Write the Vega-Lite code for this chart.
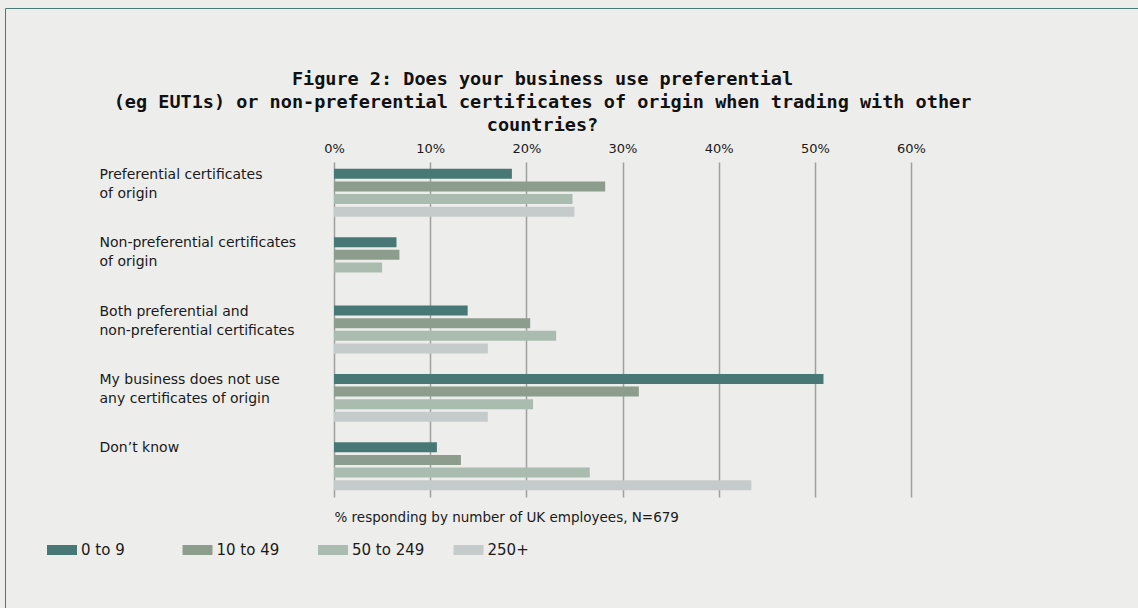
{
  "$schema": "https://vega.github.io/schema/vega-lite/v6.json",
  "width": 577,
  "height": 335,
  "autosize": {"type": "none"},
  "padding": {"left": 334, "top": 162, "right": 227, "bottom": 111},
  "background": "#ededeb",
  "title": {
    "text": ["Figure 2: Does your business use preferential", "(eg EUT1s) or non-preferential certificates of origin when trading with other", "countries?"],
    "font": "DejaVu Sans Mono",
    "fontSize": 18.5,
    "fontWeight": "bold",
    "color": "#111111",
    "lineHeight": 23,
    "anchor": "middle",
    "frame": "group",
    "dx": -80,
    "dy": 134,
    "offset": 7
  },
  "data": {
    "values": [
      {"answer": "Preferential certificates of origin", "size": "0 to 9", "pct": 18.5},
      {"answer": "Preferential certificates of origin", "size": "10 to 49", "pct": 28.2},
      {"answer": "Preferential certificates of origin", "size": "50 to 249", "pct": 24.8},
      {"answer": "Preferential certificates of origin", "size": "250+", "pct": 25.0},
      {"answer": "Non-preferential certificates of origin", "size": "0 to 9", "pct": 6.5},
      {"answer": "Non-preferential certificates of origin", "size": "10 to 49", "pct": 6.8},
      {"answer": "Non-preferential certificates of origin", "size": "50 to 249", "pct": 5.0},
      {"answer": "Non-preferential certificates of origin", "size": "250+", "pct": 0},
      {"answer": "Both preferential and non-preferential certificates", "size": "0 to 9", "pct": 13.9},
      {"answer": "Both preferential and non-preferential certificates", "size": "10 to 49", "pct": 20.4},
      {"answer": "Both preferential and non-preferential certificates", "size": "50 to 249", "pct": 23.1},
      {"answer": "Both preferential and non-preferential certificates", "size": "250+", "pct": 16.0},
      {"answer": "My business does not use any certificates of origin", "size": "0 to 9", "pct": 50.9},
      {"answer": "My business does not use any certificates of origin", "size": "10 to 49", "pct": 31.7},
      {"answer": "My business does not use any certificates of origin", "size": "50 to 249", "pct": 20.7},
      {"answer": "My business does not use any certificates of origin", "size": "250+", "pct": 16.0},
      {"answer": "Don’t know", "size": "0 to 9", "pct": 10.7},
      {"answer": "Don’t know", "size": "10 to 49", "pct": 13.2},
      {"answer": "Don’t know", "size": "50 to 249", "pct": 26.6},
      {"answer": "Don’t know", "size": "250+", "pct": 43.4}
    ]
  },
  "encoding": {
    "y": {
      "field": "answer",
      "type": "nominal",
      "sort": null,
      "scale": {"paddingInner": 0.3, "paddingOuter": 0.1},
      "axis": {
        "title": null,
        "domain": false,
        "ticks": false,
        "grid": false,
        "labelAlign": "left",
        "labelBaseline": "top",
        "labelOffset": -25,
        "labelPadding": 235,
        "labelFont": "DejaVu Sans",
        "labelFontSize": 14,
        "labelColor": "#1a1a1a",
        "labelLineHeight": 19,
        "labelLimit": 300,
        "labelExpr": "datum.label == 'Preferential certificates of origin' ? ['Preferential certificates', 'of origin'] : datum.label == 'Non-preferential certificates of origin' ? ['Non-preferential certificates', 'of origin'] : datum.label == 'Both preferential and non-preferential certificates' ? ['Both preferential and', 'non-preferential certificates'] : datum.label == 'My business does not use any certificates of origin' ? ['My business does not use', 'any certificates of origin'] : datum.label"
      }
    },
    "yOffset": {
      "field": "size",
      "type": "nominal",
      "sort": ["0 to 9", "10 to 49", "50 to 249", "250+"],
      "scale": {"paddingInner": 0.21, "paddingOuter": 0}
    },
    "color": {
      "field": "size",
      "type": "nominal",
      "scale": {
        "domain": ["0 to 9", "10 to 49", "50 to 249", "250+"],
        "range": ["#487875", "#8c9d8d", "#aabcb0", "#c5cbcb"]
      },
      "legend": {
        "title": null,
        "orient": "none",
        "legendX": -287,
        "legendY": 373,
        "direction": "horizontal",
        "columns": 4,
        "gridAlign": "all",
        "columnPadding": 28.5,
        "symbolType": "M-1,-0.3333H1V0.3333H-1Z",
        "symbolSize": 900,
        "symbolStrokeWidth": 0,
        "labelFont": "DejaVu Sans",
        "labelFontSize": 15,
        "labelColor": "#1a1a1a",
        "labelOffset": 4,
        "padding": 0
      }
    }
  },
  "layer": [
    {
      "mark": {"type": "bar"},
      "encoding": {
        "x": {
          "field": "pct",
          "type": "quantitative",
          "scale": {"domain": [0, 60], "nice": false, "zero": true},
          "axis": {
            "orient": "top",
            "title": null,
            "values": [0, 10, 20, 30, 40, 50, 60],
            "labelExpr": "datum.value + '%'",
            "labelFlush": false,
            "labelFont": "DejaVu Sans",
            "labelFontSize": 13,
            "labelColor": "#1a1a1a",
            "labelPadding": 7,
            "ticks": false,
            "domain": false,
            "grid": true,
            "gridColor": "#a0a0a0",
            "gridWidth": 1.5
          }
        }
      }
    },
    {
      "mark": {"type": "bar", "opacity": 0},
      "encoding": {
        "x": {
          "field": "pct",
          "type": "quantitative",
          "scale": {"domain": [0, 60], "nice": false, "zero": true},
          "axis": {
            "orient": "bottom",
            "title": "% responding by number of UK employees, N=679",
            "titleFont": "DejaVu Sans",
            "titleFontSize": 13.5,
            "titleFontWeight": "normal",
            "titleColor": "#1a1a1a",
            "titleAnchor": "start",
            "titleAlign": "left",
            "titlePadding": 13,
            "labels": false,
            "ticks": false,
            "domain": false,
            "grid": false
          }
        },
        "strokeDash": {
          "datum": "frame",
          "legend": {
            "title": null,
            "orient": "none",
            "legendX": -329,
            "legendY": -154,
            "padding": 570,
            "strokeColor": "#4b7b77",
            "labels": false,
            "labelExpr": "''",
            "labelOpacity": 0,
            "symbolOpacity": 0,
            "symbolStrokeColor": "transparent"
          }
        }
      }
    },
    {
      "mark": {"type": "point", "opacity": 0},
      "encoding": {
        "x": {
          "field": "pct",
          "type": "quantitative",
          "scale": {"domain": [0, 60], "nice": false, "zero": true},
          "axis": null
        },
        "shape": {
          "datum": "frame",
          "legend": {
            "title": null,
            "orient": "none",
            "legendX": -328,
            "legendY": -153,
            "padding": 570,
            "strokeColor": "#4b7b77",
            "labels": false,
            "labelExpr": "''",
            "labelOpacity": 0,
            "symbolOpacity": 0,
            "symbolStrokeColor": "transparent"
          }
        }
      }
    }
  ],
  "resolve": {"axis": {"x": "independent"}},
  "config": {
    "view": {"stroke": null},
    "font": "DejaVu Sans"
  }
}
